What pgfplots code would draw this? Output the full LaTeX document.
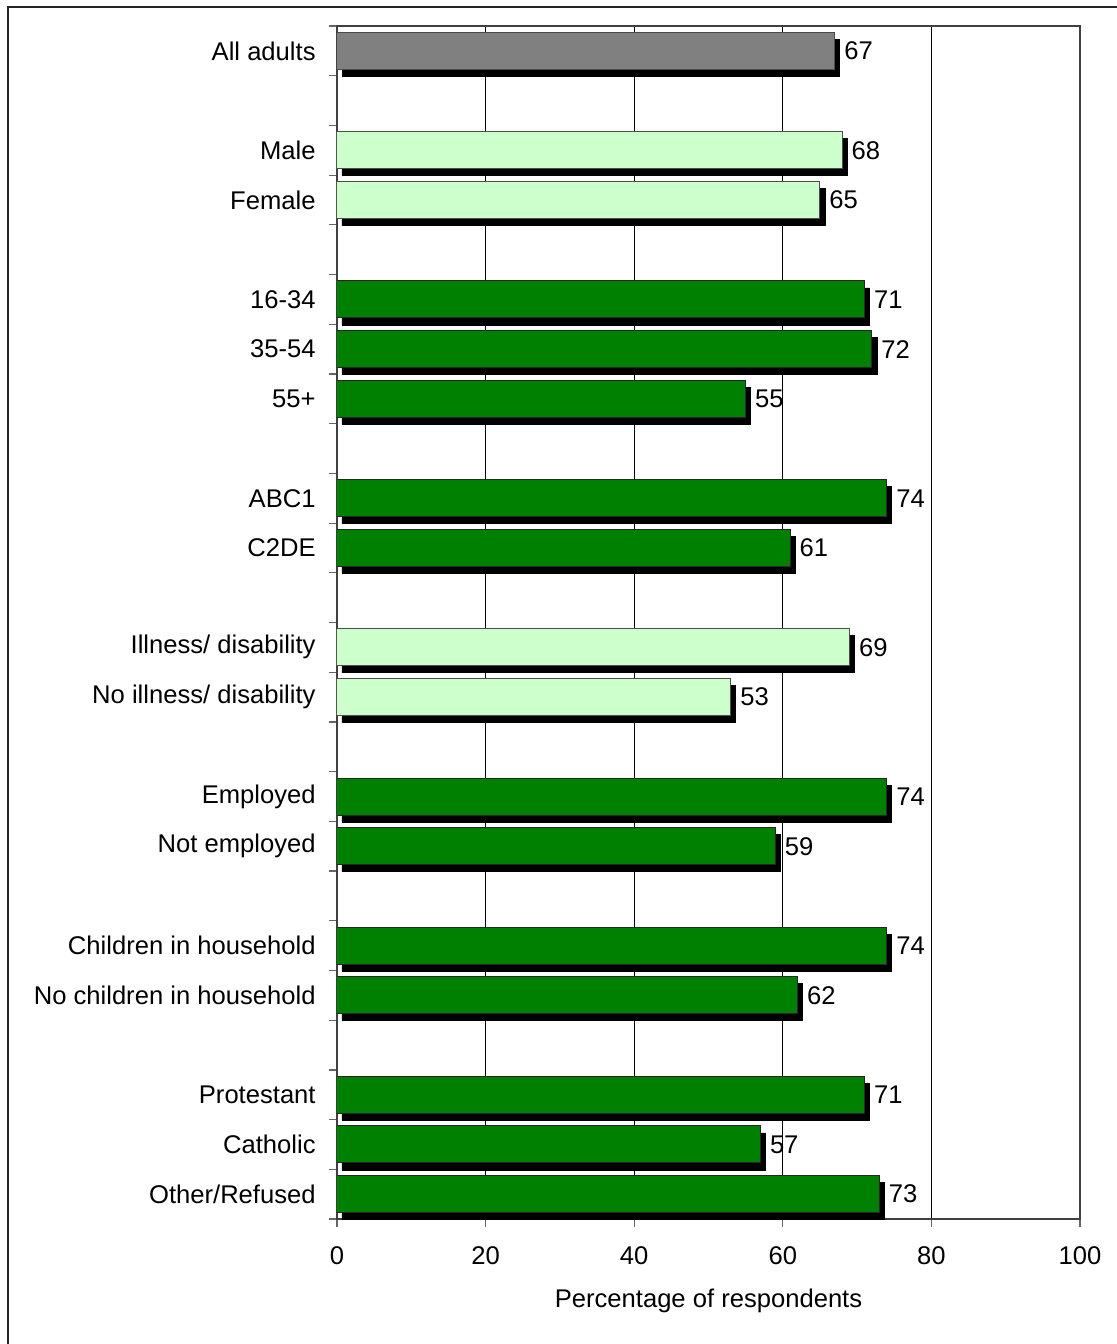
\documentclass[border=0pt]{standalone}
\usepackage{fontspec}
\setmainfont{Liberation Sans}
\usepackage{pgfplots}
\pgfplotsset{compat=1.18}
\definecolor{barGray}{HTML}{808080}
\definecolor{barLight}{HTML}{CCFFCC}
\definecolor{barGreen}{HTML}{008000}
\newcommand{\cf}{\fontsize{12.8}{15}\selectfont}
\begin{document}
\begin{tikzpicture}
\useasboundingbox (0,0) rectangle (558.5pt,-672pt);
\clip (0,0) rectangle (558.5pt,-672pt);
\fill[white] (0,0) rectangle (558.5pt,-672pt);
\draw[black!85, line width=1pt] (4pt,-3.5pt) rectangle (600pt,-720pt);
\begin{axis}[
  at={(168.5pt,-609.5pt)}, anchor=south west,
  scale only axis, width=371.5pt, height=596.5pt,
  xmin=0, xmax=100, ymin=-0.5, ymax=23.5, y dir=reverse,
  /pgf/number format/assume math mode=true,
  xtick={0,20,...,100},
  minor xtick={0,20,...,100},
  ytick={0,2,3,5,6,7,9,10,12,13,15,16,18,19,21,22,23},
  yticklabels={All adults,Male,Female,16-34,35-54,55+,ABC1,C2DE,Illness/ disability,No illness/ disability,Employed,Not employed,Children in household,No children in household,Protestant,Catholic,Other/Refused},
  minor ytick={-0.5,0.5,...,23.5},
  major tick length=0pt, minor tick length=4pt,
  tick align=outside, tick pos=left,
  minor tick style={black!60, line width=0.6pt},
  xmajorgrids, major grid style={black, line width=0.5pt},
  axis line style={black!75, line width=0.6pt},
  ticklabel style={font=\cf},
  yticklabel style={inner sep=0pt, xshift=-10.5pt},
  xticklabel style={inner sep=0pt, yshift=-13.8pt},
  bar width=18.5pt,
  axis on top=false,
]
% shadows
\addplot[xbar, bar shift=0pt, fill=black, draw=black, xshift=2.5pt, yshift=-3.5pt] coordinates {(67,0)};
\addplot[xbar, bar shift=0pt, fill=black, draw=black, xshift=2.5pt, yshift=-3.5pt] coordinates {(68,2) (65,3) (69,12) (53,13)};
\addplot[xbar, bar shift=0pt, fill=black, draw=black, xshift=2.5pt, yshift=-3.5pt] coordinates {(71,5) (72,6) (55,7) (74,9) (61,10) (74,15) (59,16) (74,18) (62,19) (71,21) (57,22) (73,23)};
% bars
\addplot[xbar, bar shift=0pt, fill=barGray, draw=black!70, line width=0.5pt,
  nodes near coords, nodes near coords style={font=\cf, anchor=west, inner sep=1pt, xshift=3.5pt, text=black}] coordinates {(67,0)};
\addplot[xbar, bar shift=0pt, fill=barLight, draw=black!70, line width=0.5pt,
  nodes near coords, nodes near coords style={font=\cf, anchor=west, inner sep=1pt, xshift=3.5pt, text=black}] coordinates {(68,2) (65,3) (69,12) (53,13)};
\addplot[xbar, bar shift=0pt, fill=barGreen, draw=black!85, line width=0.5pt,
  nodes near coords, nodes near coords style={font=\cf, anchor=west, inner sep=1pt, xshift=3.5pt, text=black}] coordinates {(71,5) (72,6) (55,7) (74,9) (61,10) (74,15) (59,16) (74,18) (62,19) (71,21) (57,22) (73,23)};
\end{axis}
\node[anchor=base, font=\cf, inner sep=0pt] at (354.25pt,-653.85pt) {Percentage of respondents};
\end{tikzpicture}
\end{document}
